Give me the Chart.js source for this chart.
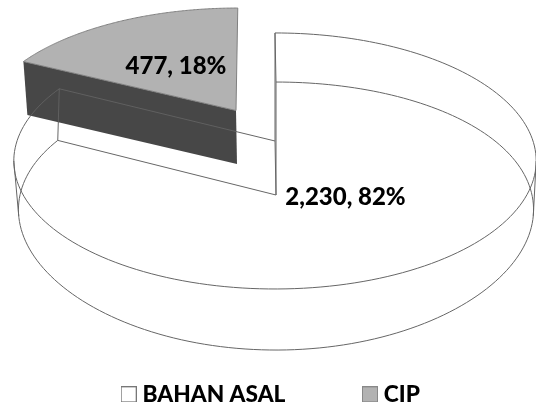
<!DOCTYPE html>
<html>
<head>
<meta charset="utf-8">
<style>html,body{margin:0;padding:0;background:#fff}#w{width:536px;height:403px}</style>
<script src="https://cdn.jsdelivr.net/npm/chart.js@4"></script>
</head>
<body>
<div id="w"><canvas id="c" width="536" height="403"></canvas></div>
<script>
const categories = ["BAHAN ASAL", "CIP"];
const values = [2230, 477];
const fillColors = ["#ffffff", "#b2b2b2"];
const sideColors = ["#ffffff", "#474747"];
const borderColors = ["#666666", "#808080"];

// Perspective projection of each exploded slice's top and bottom plane
const planes = [
  { top: {cx:275, cy:141, R:258, k:0.156, kx:0.156, a:124.9, sh:0}, bot: {cx:276, cy:195, R:256, k:0.157, kx:0.11, a:130.7, sh:0} },
  { top: {cx:236, cy:110.5, R:252.5, k:0.13, kx:0.13, a:115.8, sh:2}, bot: {cx:237, cy:164, R:249, k:0.13, kx:0.13, a:115.8, sh:2} }
];
const labelPos = [[345.5, 197], [176, 66]];

function proj(p, phi, r) {
  const u = r * Math.cos(phi), v = r * Math.sin(phi);
  const s = 1 / (1 - p.k * v), sx = 1 / (1 - p.kx * v);
  return [p.cx + p.R * u * sx - p.sh * v * s, p.cy + p.a * v * s];
}
function facePath(ctx, p, a0, a1) {
  ctx.beginPath();
  const c = proj(p, 0, 0);
  ctx.moveTo(c[0], c[1]);
  const n = 180;
  for (let i = 0; i <= n; i++) {
    const q = proj(p, a0 + (a1 - a0) * i / n, 1);
    ctx.lineTo(q[0], q[1]);
  }
  ctx.closePath();
}
function seg(ctx, A, B) { ctx.beginPath(); ctx.moveTo(A[0], A[1]); ctx.lineTo(B[0], B[1]); ctx.stroke(); }
function whiteOutline(ctx, arc, pl) {
  const a0 = arc.startAngle, a1 = arc.endAngle;
  facePath(ctx, pl.top, a0, a1); ctx.stroke();
  facePath(ctx, pl.bot, a0, a1); ctx.stroke();
  seg(ctx, proj(pl.top, 0, 0), proj(pl.bot, 0, 0));
  seg(ctx, proj(pl.top, a0, 1), proj(pl.bot, a0, 1));
  seg(ctx, proj(pl.top, a1, 1), proj(pl.bot, a1, 1));
  // silhouette edges of the curved outer wall
  [Math.asin(pl.top.k), Math.PI - Math.asin(pl.top.k)].forEach(phi => {
    seg(ctx, proj(pl.top, phi, 1), proj(pl.bot, phi, 1));
  });
}

const pie3d = {
  id: "pie3d",
  afterLayout(chart) {
    const lg = chart.legend, pad = lg.options.labels.padding;
    lg.top = 383 - pad; lg.bottom = 403;
    lg.left += 5; lg.right += 5;
  },
  beforeDatasetsDraw(chart) {
    const ctx = chart.ctx, arcs = chart.getDatasetMeta(0).data;
    ctx.save();
    ctx.lineWidth = 1;
    ctx.strokeStyle = borderColors[0];
    whiteOutline(ctx, arcs[0], planes[0]);
    const a = arcs[1], pl = planes[1];
    const T0 = proj(pl.top, a.startAngle, 1), B0 = proj(pl.bot, a.startAngle, 1);
    const TC = proj(pl.top, 0, 0), BC = proj(pl.bot, 0, 0);
    ctx.fillStyle = sideColors[1];
    ctx.beginPath();
    ctx.moveTo(T0[0], T0[1]); ctx.lineTo(TC[0], TC[1]); ctx.lineTo(BC[0], BC[1]); ctx.lineTo(B0[0], B0[1]);
    ctx.closePath(); ctx.fill();
    ctx.fillStyle = fillColors[1];
    facePath(ctx, pl.top, a.startAngle, a.endAngle); ctx.fill();
    ctx.strokeStyle = borderColors[1];
    ctx.stroke();
    ctx.save();
    ctx.beginPath();
    ctx.moveTo(T0[0], T0[1]); ctx.lineTo(TC[0], TC[1]); ctx.lineTo(BC[0], BC[1]); ctx.lineTo(B0[0], B0[1]);
    ctx.closePath(); ctx.clip();
    ctx.globalAlpha = 0.25; ctx.strokeStyle = "#aaaaaa";
    whiteOutline(ctx, arcs[0], planes[0]);
    ctx.restore();
    const total = values.reduce((s, x) => s + x, 0);
    ctx.fillStyle = "#000";
    ctx.font = "900 24px Lato, Carlito, sans-serif";
    ctx.textAlign = "center"; ctx.textBaseline = "middle";
    values.forEach((val, i) => {
      const t = val.toLocaleString("en-US") + ", " + Math.round(val / total * 100) + "%";
      ctx.fillText(t, labelPos[i][0], labelPos[i][1]);
    });
    ctx.restore();
    return false;
  }
};

function swatch(fill, border) {
  const s = document.createElement("canvas");
  s.width = 16; s.height = 16;
  const g = s.getContext("2d");
  g.fillStyle = fill; g.fillRect(0.5, 0.5, 15, 15);
  g.strokeStyle = border; g.lineWidth = 1; g.strokeRect(0.5, 0.5, 15, 15);
  return s;
}
const swatches = [swatch(fillColors[0], "#777777"), swatch(fillColors[1], "#888888")];

new Chart(document.getElementById("c"), {
  type: "pie",
  data: {
    labels: categories,
    datasets: [{ data: values, backgroundColor: fillColors, borderColor: borderColors, borderWidth: 1 }]
  },
  options: {
    responsive: false,
    animation: false,
    events: [],
    plugins: {
      tooltip: { enabled: false },
      title: { display: false },
      legend: {
        display: true,
        position: "bottom",
        labels: {
          usePointStyle: true,
          pointStyleWidth: 5,
          padding: 82,
          color: "#000",
          font: { family: "Lato, Carlito, sans-serif", weight: "900", size: 22.7 },
          generateLabels(chart) {
            return Chart.overrides.doughnut.plugins.legend.labels.generateLabels(chart)
              .map((it, i) => Object.assign(it, { pointStyle: swatches[i] }));
          }
        }
      }
    }
  },
  plugins: [pie3d]
});
</script>
</body>
</html>
